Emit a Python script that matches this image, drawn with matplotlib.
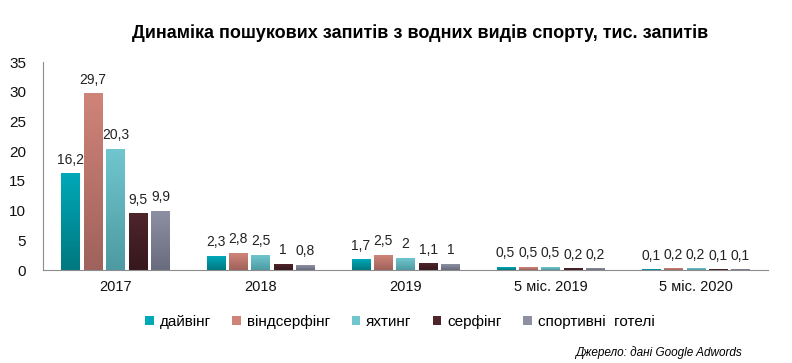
import numpy as np
import matplotlib.pyplot as plt
from matplotlib.patches import Patch
from matplotlib.colors import LinearSegmentedColormap

plt.rcParams['font.family'] = ['Liberation Sans', 'DejaVu Sans']

categories = ['2017', '2018', '2019', '5 міс. 2019', '5 міс. 2020']
series_names = ['дайвінг', 'віндсерфінг', 'яхтинг', 'серфінг', 'спортивні  готелі']
diving = [16.2, 2.3, 1.7, 0.5, 0.1]
windsurf = [29.7, 2.8, 2.5, 0.5, 0.2]
yachting = [20.3, 2.5, 2.0, 0.5, 0.2]
surfing = [9.5, 1.0, 1.1, 0.2, 0.1]
hotels = [9.9, 0.8, 1.0, 0.2, 0.1]
series = [diving, windsurf, yachting, surfing, hotels]

# верх / низ градієнта кожної серії
grad = [('#00a8b8', '#007880'),
        ('#cf8478', '#a0625c'),
        ('#70c6ce', '#4e9aa2'),
        ('#4e252b', '#36181c'),
        ('#8c90a2', '#686c7e')]

fig = plt.figure(figsize=(7.92, 3.63), dpi=100)
ax = fig.add_axes([0.0543, 0.256, 0.9155, 0.573])

x = np.arange(len(categories))
step = 0.155
width = 0.125

for i, (vals, (top, bot)) in enumerate(zip(series, grad)):
    cmap = LinearSegmentedColormap.from_list('g%d' % i, [bot, top])
    xs = x + (i - 2) * step
    for xi, v in zip(xs, vals):
        ax.imshow(np.linspace(0, 1, 64).reshape(-1, 1), cmap=cmap,
                  extent=[xi - width / 2, xi + width / 2, 0, v],
                  origin='lower', aspect='auto', zorder=2)
        lab = ('%g' % v).replace('.', ',')
        ax.annotate(lab, (xi, v), xytext=(0, 5), textcoords='offset points',
                    ha='center', va='bottom', fontsize=10, color='#222222')

ax.set_xlim(-0.5, len(categories) - 0.5)
ax.set_ylim(0, 35)
ax.set_yticks(range(0, 36, 5))
ax.set_xticks(x)
ax.set_xticklabels(categories)
ax.tick_params(length=0, labelsize=10.5, colors='#111111')
ax.tick_params(axis='x', pad=7)
ax.tick_params(axis='y', pad=12, labelsize=11)
for s in ['top', 'right']:
    ax.spines[s].set_visible(False)
for s in ['left', 'bottom']:
    ax.spines[s].set_color('#8c8c8c')

fig.text(0.53, 0.91, 'Динаміка пошукових запитів з водних видів спорту, тис. запитів',
         ha='center', va='center', fontsize=13, fontweight='bold')

handles = [Patch(facecolor=t, edgecolor='none') for t, b in grad]
fig.legend(handles, series_names, loc='center', bbox_to_anchor=(0.505, 0.113),
           ncol=5, frameon=False, fontsize=11, handlelength=0.55,
           handleheight=0.55, handletextpad=0.4, columnspacing=1.4)

fig.text(0.937, 0.03, 'Джерело: дані Google Adwords', ha='right', va='center',
         fontsize=8.5, style='italic')

fig.savefig('out.png', dpi=100)
